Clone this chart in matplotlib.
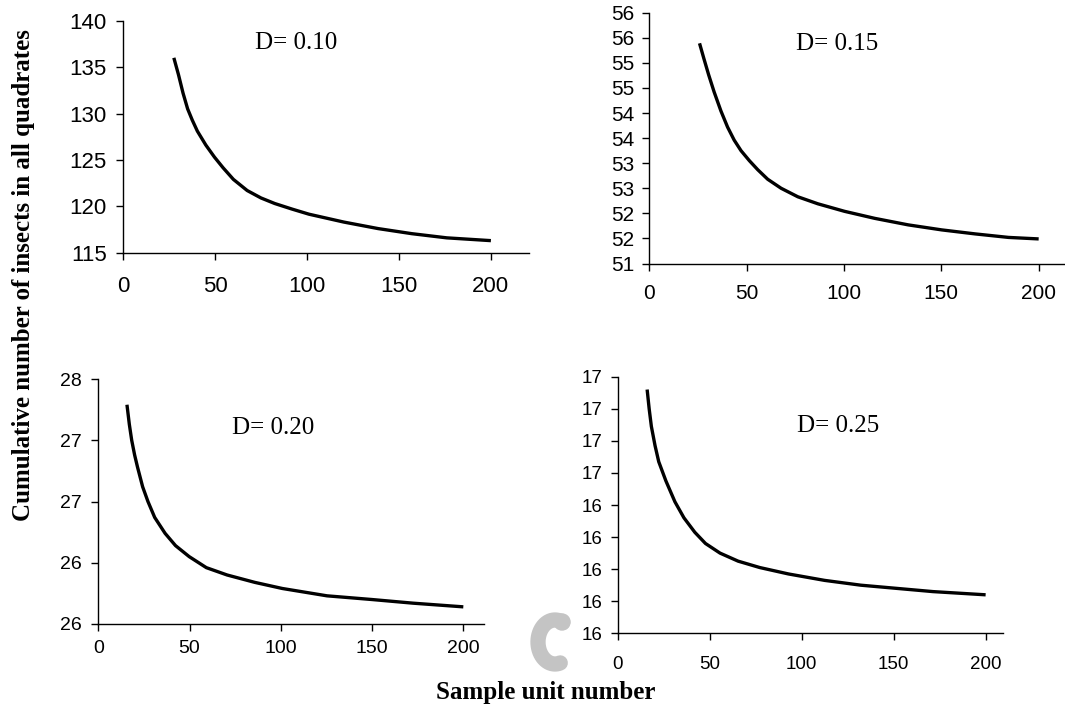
import numpy as np
import matplotlib.pyplot as plt
from matplotlib.patches import Circle

# values (sample unit number vs cumulative count)
x10 = [27.5, 30, 32.5, 35, 37.5, 40.3, 44.9, 49.6, 54.3, 59.9, 67.4, 74.9, 82.4, 91.8, 101, 120, 138.6, 157, 176, 200]
y10 = [136.0, 134.2, 132.2, 130.5, 129.3, 128.1, 126.6, 125.3, 124.15, 122.9, 121.7, 120.9, 120.3, 119.7, 119.15, 118.3, 117.6, 117.05, 116.6, 116.3]

x15 = [25.8, 28, 30.5, 33.3, 36.8, 40.2, 43.6, 47.1, 51.4, 55.7, 60.8, 67.7, 76.3, 86.6, 100.3, 115.8, 133, 150.2, 167.4, 184.5, 200]
y15 = [55.39, 55.09, 54.76, 54.42, 54.04, 53.72, 53.46, 53.25, 53.05, 52.87, 52.68, 52.50, 52.33, 52.19, 52.04, 51.90, 51.77, 51.67, 51.59, 51.52, 51.49]

x20 = [15.7, 17, 18.3, 19.9, 21.5, 24.3, 27.2, 30.9, 36.6, 42.3, 49.8, 59.2, 70.6, 85.7, 100.8, 125.3, 149.8, 172.5, 200]
y20 = [27.29, 27.13, 27.00, 26.88, 26.78, 26.62, 26.50, 26.37, 26.24, 26.14, 26.05, 25.96, 25.90, 25.84, 25.79, 25.73, 25.70, 25.67, 25.64]

x25 = [16.1, 17.2, 18.4, 20.4, 22.4, 26.3, 31.2, 36.1, 42, 47.8, 55.7, 65.5, 77.3, 92.9, 112.5, 132.2, 151.8, 171.4, 200]
y25 = [17.12, 17.0, 16.89, 16.77, 16.67, 16.55, 16.42, 16.32, 16.23, 16.16, 16.10, 16.05, 16.01, 15.97, 15.93, 15.90, 15.88, 15.86, 15.84]

d_labels = ["D= 0.10", "D= 0.15", "D= 0.20", "D= 0.25"]

xticks = [0, 50, 100, 150, 200]
yt10 = [115, 120, 125, 130, 135, 140]
yl10 = ["115", "120", "125", "130", "135", "140"]
yt15 = [51, 51.5, 52, 52.5, 53, 53.5, 54, 54.5, 55, 55.5, 56]
yl15 = ["51", "52", "52", "53", "53", "54", "54", "55", "55", "56", "56"]
yt20 = [25.5, 26, 26.5, 27, 27.5]
yl20 = ["26", "26", "27", "27", "28"]
yt25 = [15.6, 15.8, 16.0, 16.2, 16.4, 16.6, 16.8, 17.0, 17.2]
yl25 = ["16", "16", "16", "16", "16", "17", "17", "17", "17"]

W, H = 1065, 711
fig = plt.figure(figsize=(W / 100, H / 100), dpi=100)

def px(l, t, r, b):
    return [l / W, 1 - b / H, (r - l) / W, (b - t) / H]

panels = [
    # xs, ys, yticks, ylabels, rect(px), xmax, tick font, x pad, y pad, label pos
    (x10, y10, yt10, yl10, px(123.3, 20.7, 529.3, 252.7), 220.9, 16, 12, 7, (71.4, 137.55)),
    (x15, y15, yt15, yl15, px(649.3, 12.7, 1077.6, 263.5), 220, 15, 9.5, 6, (75.6, 55.38)),
    (x20, y20, yt20, yl20, px(98.3, 379, 484.3, 624), 211.5, 14, 6.5, 7, (73.4, 27.1)),
    (x25, y25, yt25, yl25, px(617.5, 376.7, 1003.3, 633.3), 209.6, 13.5, 11, 5.5, (97.3, 16.89)),
]

for i, (xs, ys, yt, yl, rect, xmax, fs, xpad, ypad, lab) in enumerate(panels):
    ax = fig.add_axes(rect)
    ax.plot(xs, ys, color="black", lw=2.4, solid_capstyle="butt")
    ax.set_xlim(0, xmax)
    ax.set_ylim(yt[0], yt[-1])
    ax.set_xticks(xticks)
    ax.set_xticklabels([str(v) for v in xticks], family="Liberation Sans", fontsize=fs)
    ax.set_yticks(yt)
    ax.set_yticklabels(yl, family="Liberation Sans", fontsize=fs)
    ax.tick_params(axis="x", length=5, width=1, pad=xpad, colors="black")
    ax.tick_params(axis="y", length=5, width=1, pad=ypad, colors="black")
    for s in ["top", "right"]:
        ax.spines[s].set_visible(False)
    for s in ["left", "bottom"]:
        ax.spines[s].set_linewidth(1)
        ax.spines[s].set_clip_on(False)
    ax.text(lab[0], lab[1], d_labels[i], family="Liberation Serif", fontsize=18,
            ha="left", va="center")

fig.text(0.0225, 0.613, "Cumulative number of insects in all quadrates", rotation=90,
         family="Liberation Serif", fontweight="bold", fontsize=18, ha="center", va="center")
fig.text(0.512, 0.026, "Sample unit number", family="Liberation Serif",
         fontweight="bold", fontsize=18, ha="center", va="center")

# grey logo mark near the bottom centre
ax_logo = fig.add_axes([0, 0, 1, 1], zorder=-1)
ax_logo.set_xlim(0, W)
ax_logo.set_ylim(H, 0)
ax_logo.axis("off")
t = np.linspace(0.35 * np.pi, 1.6 * np.pi, 40)
ax_logo.plot(555 + 17 * np.cos(t), 642 - 22 * np.sin(t), color="#c4c4c4", lw=11, solid_capstyle="round")
ax_logo.add_patch(Circle((562, 622), 8, color="#c4c4c4"))

fig.savefig("out.png", dpi=100)
